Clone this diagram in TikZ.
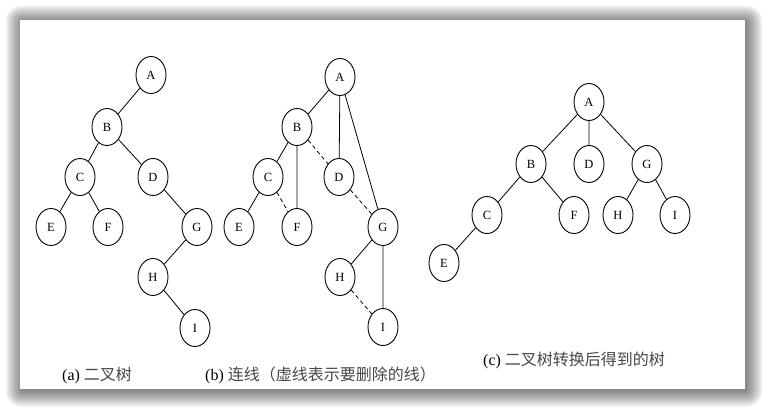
\documentclass[tikz,border=0pt]{standalone}
\usepackage{fontspec}
\setmainfont{Liberation Serif}
\newfontfamily\cjk{Noto Sans CJK SC}
\usetikzlibrary{shapes.geometric}
\tikzset{
  tn/.style={draw, ellipse, line width=0.9pt, minimum width=30pt, minimum height=37pt, inner sep=0pt, font=\fontsize{12.5}{14}\selectfont},
  edge/.style={line width=0.8pt},
  deledge/.style={line width=0.8pt, dash pattern=on 4pt off 3pt},
  captxt/.style={font=\fontsize{16}{19}\selectfont, inner sep=0pt}
}
\newcommand{\zh}[1]{{\cjk\color{black!72}#1}}
\begin{document}
\begin{tikzpicture}[x=1pt,y=-1pt]
\useasboundingbox (0,0) rectangle (765,409);
% shadow
\foreach \i in {0,...,16}{
  \fill[black, opacity=0.035, rounded corners=\i pt] (21.5-\i,21.5-\i) rectangle (746.5+\i,391+\i);
}
\fill[white] (20,20) rectangle (745,389);
% (a)
\node[tn] (aA) at (151,75) {A};
\node[tn] (aB) at (107,127) {B};
\node[tn] (aC) at (80,177) {C};
\node[tn] (aD) at (153,177) {D};
\node[tn] (aE) at (51,227) {E};
\node[tn] (aF) at (108,227) {F};
\node[tn] (aG) at (197,227) {G};
\node[tn] (aH) at (153,277) {H};
\node[tn] (aI) at (195,328) {I};
\draw[edge] (aA)--(aB) (aB)--(aC) (aB)--(aD) (aC)--(aE) (aC)--(aF) (aD)--(aG) (aG)--(aH) (aH)--(aI);
% (b)
\node[tn] (bA) at (340,77) {A};
\node[tn] (bB) at (297,127) {B};
\node[tn] (bC) at (268,177) {C};
\node[tn] (bD) at (339,177) {D};
\node[tn] (bE) at (239,227) {E};
\node[tn] (bF) at (297,227) {F};
\node[tn] (bG) at (383,227) {G};
\node[tn] (bH) at (340,277) {H};
\node[tn] (bI) at (383,327) {I};
\draw[edge] (bA)--(bB) (bA)--(bD) (bA)--(bG) (bB)--(bC) (bB)--(bF) (bC)--(bE) (bG)--(bH) (bG)--(bI);
\draw[deledge] (bB)--(bD) (bC)--(bF) (bD)--(bG) (bH)--(bI);
% (c)
\node[tn] (cA) at (589,102) {A};
\node[tn] (cB) at (531,164) {B};
\node[tn] (cD) at (589,164) {D};
\node[tn] (cG) at (647,164) {G};
\node[tn] (cC) at (487,215) {C};
\node[tn] (cF) at (574,215) {F};
\node[tn] (cH) at (618,215) {H};
\node[tn] (cI) at (675,215) {I};
\node[tn] (cE) at (444,263) {E};
\draw[edge] (cA)--(cB) (cA)--(cD) (cA)--(cG) (cB)--(cC) (cB)--(cF) (cC)--(cE) (cG)--(cH) (cG)--(cI);
% captions
\node[captxt, anchor=west] (capa) at (62,375) {(a) \zh{二叉树}};
\node[captxt, anchor=west] (capb) at (205,375) {(b) \zh{连线（虚线表示要删除的线）}};
\node[captxt, anchor=west] (capc) at (483,360) {(c) \zh{二叉树转换后得到的树}};
\end{tikzpicture}
\end{document}
